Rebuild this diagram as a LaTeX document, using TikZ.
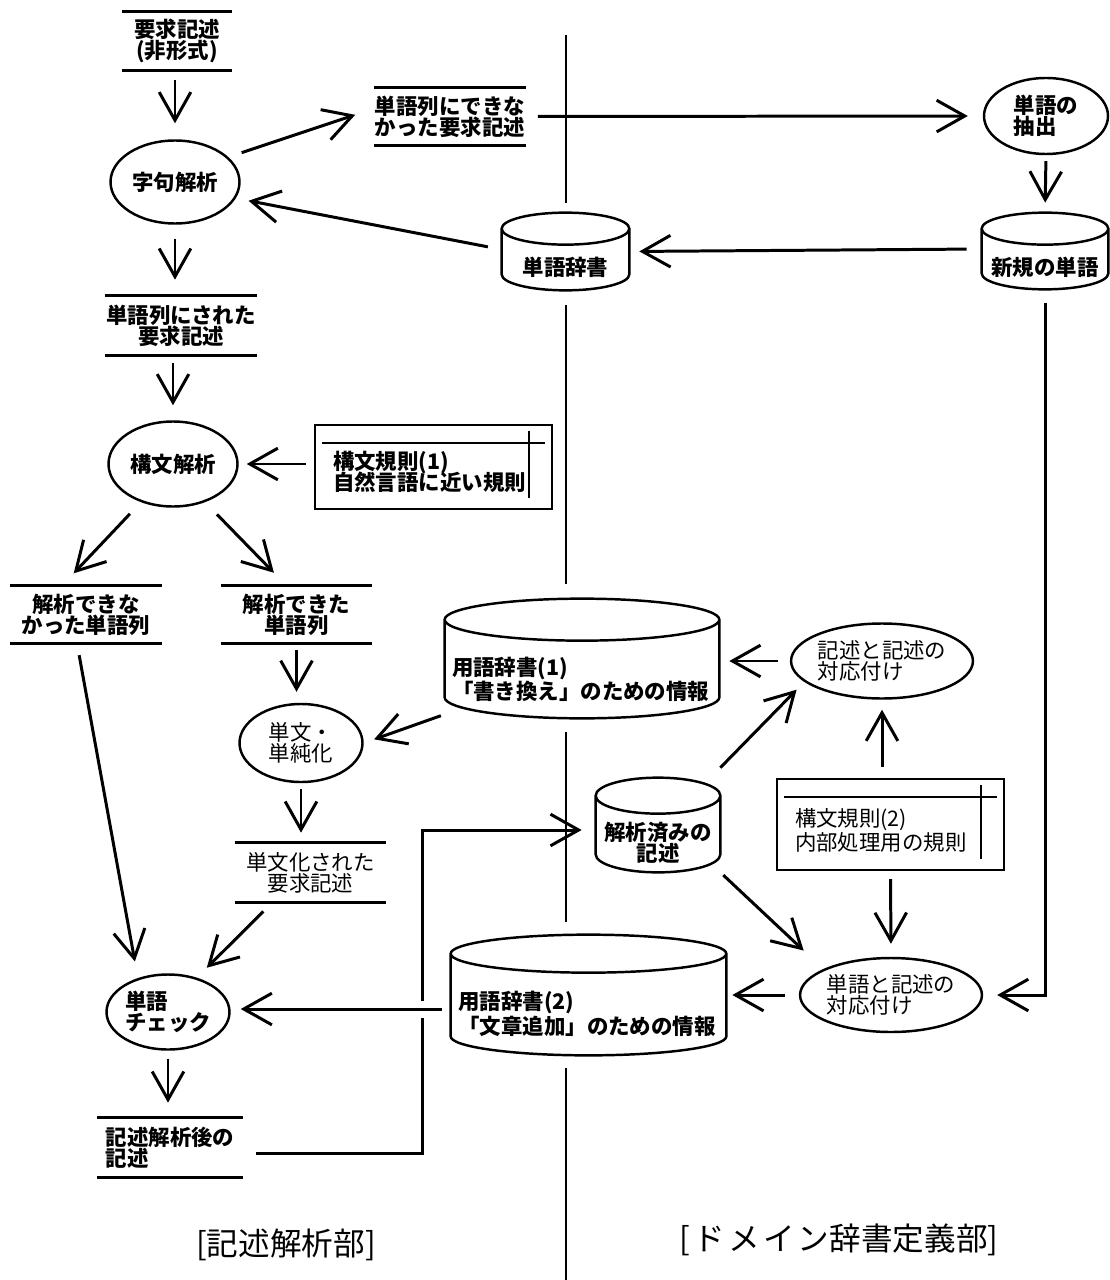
\documentclass[tikz,border=0pt]{standalone}
\usepackage{fontspec}
\setmainfont{Noto Sans CJK JP}
\usepackage{tikz}
\usetikzlibrary{arrows.meta,shapes.geometric,calc}

\newlength\pxu
\setlength\pxu{0.02cm}
\setlength\lineskiplimit{-6pt}

\tikzset{
  shapeline/.style={line width=1.4pt},
  txt/.style={font=\fontsize{12.2}{12}\selectfont\bfseries, inner sep=0pt},
  lighttxt/.style={font=\fontsize{12.2}{12}\selectfont},
  proc/.style 2 args={txt, shapeline, draw, ellipse, minimum width=#1\pxu, minimum height=#2\pxu, align=left},
  store/.style 2 args={txt, minimum width=#1\pxu, minimum height=#2\pxu, align=center},
  db/.style 2 args={txt, minimum width=#1\pxu, minimum height=#2\pxu, align=center},
  rulebox/.style n args={3}{txt, shapeline, draw, minimum width=#1\pxu, minimum height=#2\pxu, text width=#3\pxu, align=left},
  flow/.style={line width=1.7pt, -{Straight Barb[length=16pt,width=18pt]}, shorten <=10\pxu, shorten >=16\pxu},
  divider/.style={line width=1.1pt},
  partlabel/.style={font=\fontsize{18}{20}\selectfont, inner sep=0pt}
}

\begin{document}
\begin{tikzpicture}[x=0.02cm, y=-0.02cm]
\useasboundingbox (0,0) rectangle (1109,1280);

\node[store={109}{58}] (req) at (177,41) {要求記述\\(非形式)};
\node[proc={129}{83}] (jiku) at (175,182) {字句解析};
\node[store={151}{57}, align=left] (fail1) at (450,116.5) {単語列にできな\\かった要求記述};
\node[proc={124}{76}] (chushutsu) at (1046,116) {単語の\\抽出};
\node[db={126}{44}] (newword) at (1045,267) {新規の単語};
\node[db={127}{45}] (wdict) at (565.5,267.5) {単語辞書};
\node[store={152}{59}] (wordseq) at (181,325.5) {単語列にされた\\要求記述};
\node[proc={129}{85}] (kobun) at (173,464) {構文解析};
\node[rulebox={237}{84}{201}] (rule1) at (433.5,467) {\rule{0pt}{16pt}構文規則(1)\\[-2pt]自然言語に近い規則};
\node[store={152}{57}] (ngseq) at (86,614.5) {解析できな\\かった単語列};
\node[store={151}{57}] (okseq) at (296.5,614.5) {解析できた\\単語列};
\node[db={274}{77}, align=left, text width=260\pxu] (dict1) at (582,679.5) {用語辞書(1)\\「書き換え」のための情報};
\node[proc={123}{78}, lighttxt] (tanbun) at (301,743) {単文・\\単純化};
\node[proc={163}{75}, lighttxt] (kijutsu) at (882,661) {記述と記述の\\対応付け};
\node[db={124}{58}] (parsed) at (658,843) {解析済みの\\記述};
\node[rulebox={227}{91}{191}, lighttxt] (rule2) at (890.5,824.5) {\rule{0pt}{17.5pt}構文規則(2)\\内部処理用の規則};
\node[store={151}{59}, lighttxt] (simple) at (310.5,872.5) {単文化された\\要求記述};
\node[proc={123}{75}] (check) at (168,1012) {単語\\チェック};
\node[proc={162}{74}, lighttxt] (tango) at (891,995) {単語と記述の\\対応付け};
\node[db={275}{82}, align=left, text width=260\pxu] (dict2) at (588.5,1014) {用語辞書(2)\\「文章追加」のための情報};
\node[store={146}{59}, align=left] (after) at (170,1147.5) {記述解析後の\\記述};
\node[partlabel] (leftpart) at (286,1245) {[記述解析部]};
\node[partlabel] (rightpart) at (839,1240) {[\hspace{.1em}ド\hspace{.1em}メ\hspace{.1em}イ\hspace{.1em}ン辞書定義部]};

\foreach \a/\b in {35/203,305/584,732/922,1068/1280}
  \draw[divider] (566,\a) -- (566,\b);

\foreach \s in {req,fail1,wordseq,ngseq,okseq,simple,after}
  \draw[shapeline] (\s.north west) -- (\s.north east) (\s.south west) -- (\s.south east);

\foreach \rb in {rule1,rule2}
  \draw[line width=1.1pt] ([shift={(8\pxu,-19\pxu)}]\rb.north west) -- ([shift={(-8\pxu,-19\pxu)}]\rb.north east)
    ([shift={(-24\pxu,-7\pxu)}]\rb.north east) -- ([shift={(-24\pxu,12\pxu)}]\rb.south east);

\foreach \cyl/\rad in {wdict/16,newword/16,dict1/21,parsed/18,dict2/19}{
  \coordinate (\cyl-top) at ([yshift=2*\rad\pxu]\cyl.north);
  \draw[shapeline] let \p1=(\cyl.north west), \p2=(\cyl.north east) in
    ([yshift=\rad\pxu]\cyl.north) ellipse [x radius={(\x2-\x1)/2}, y radius=\rad\pxu]
    ([yshift=\rad\pxu]\cyl.north west) -- ([yshift=\rad\pxu]\cyl.south west)
    arc [start angle=180, end angle=360, x radius={(\x2-\x1)/2}, y radius=\rad\pxu]
    -- ([yshift=\rad\pxu]\cyl.north east);
}

\draw[flow] (jiku.north |- req.south) -- (jiku.north);
\draw[flow, shorten <=14\pxu, shorten >=20\pxu] (jiku.25) -- ([yshift=8\pxu]fail1.west);
\draw[flow, shorten <=12\pxu, shorten >=15\pxu] (fail1.east) -- (chushutsu.west);
\draw[flow, shorten <=6\pxu, shorten >=10\pxu] (chushutsu.south) -- (newword-top);
\draw[flow, shorten <=15\pxu, shorten >=10\pxu] ([yshift=18\pxu]newword.west) -- ([yshift=16\pxu]wdict.east);
\draw[flow, shorten <=14\pxu, shorten >=13\pxu] ([yshift=18\pxu]wdict.west) -- (jiku.-15);
\draw[flow, shorten <=14\pxu] (jiku.south) -- (jiku.south |- wordseq.north);
\draw[flow, shorten <=8\pxu, shorten >=15\pxu] (kobun.north |- wordseq.south) -- (kobun.north);
\draw[flow, shorten <=8\pxu, shorten >=8\pxu] (rule1.west |- kobun.east) -- (kobun.east);
\draw[flow, shorten <=16\pxu, shorten >=17\pxu] (kobun.230) -- ([xshift=-24\pxu]ngseq.north);
\draw[flow, shorten <=17\pxu, shorten >=18\pxu] (kobun.-50) -- ([xshift=-10\pxu]okseq.north);
\draw[flow, shorten <=12\pxu, shorten >=12\pxu] ([xshift=-9\pxu]ngseq.south) -- ([xshift=-31\pxu]check.north);
\draw[flow, shorten <=7\pxu, shorten >=11\pxu] (okseq.south) -- (okseq.south |- tanbun.north);
\draw[flow, shorten <=4\pxu, shorten >=11\pxu] ([yshift=4\pxu]dict1.south west) -- (tanbun.east);
\draw[flow, shorten <=6\pxu, shorten >=10\pxu] (tanbun.south) -- (tanbun.south |- simple.north);
\draw[flow, shorten <=13\pxu, shorten >=14\pxu] ([xshift=-38\pxu]simple.south) -- (check.50);
\draw[flow, shorten <=8\pxu, shorten >=15\pxu] (check.south) -- (check.south |- after.north);
\draw[flow, shorten <=13\pxu, shorten >=14\pxu] ([yshift=-6\pxu]after.east) -- ++(179,0) |- ([yshift=13\pxu]parsed.west);
\draw[flow, shorten <=0pt, shorten >=11\pxu] ([yshift=46\pxu]parsed.north east) -- (kijutsu.195);
\draw[flow, shorten <=11\pxu, shorten >=10\pxu] (rule2.north -| kijutsu.south) -- (kijutsu.south);
\draw[flow, shorten <=12\pxu, shorten >=10\pxu] (kijutsu.west) -- (kijutsu.west -| dict1.east);
\draw[flow, shorten <=4\pxu, shorten >=27\pxu] (parsed.south east) -- (tango.159);
\draw[flow, shorten <=8\pxu, shorten >=13\pxu] (rule2.south) -- (tango.north);
\draw[flow, shorten <=14\pxu, shorten >=6\pxu] (tango.west) -- (tango.west -| dict2.east);
\draw[flow, shorten <=9\pxu, shorten >=10\pxu, preaction={draw=white, line width=17\pxu, arrows=-}] ([yshift=5\pxu]dict2.west) -- ([yshift=5\pxu]dict2.west -| check.east);
\draw[flow, shorten <=0pt, shorten >=14\pxu] ([yshift=-14\pxu]newword.south) |- (tango.east);
\end{tikzpicture}
\end{document}
